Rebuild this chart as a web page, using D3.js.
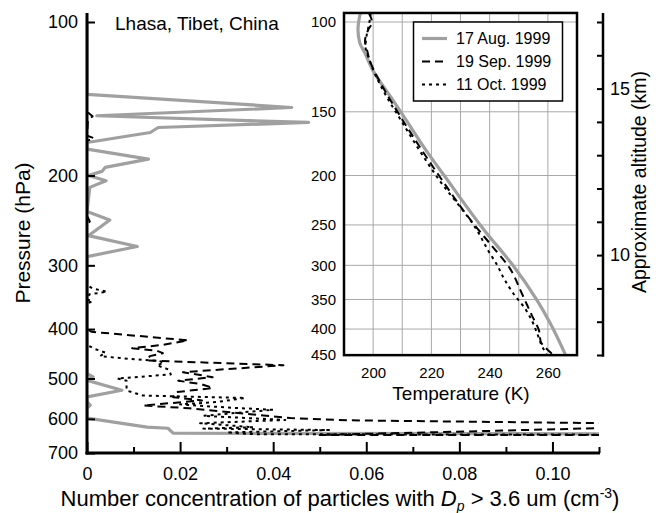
<!DOCTYPE html>
<html><head><meta charset="utf-8">
<script src="https://cdn.jsdelivr.net/npm/d3@7"></script>
<style>
body{margin:0;background:#fff;}
text{font-family:Arial,"Liberation Sans",Helvetica,sans-serif;fill:#000;}
</style></head><body>
<svg id="c" width="658" height="513"></svg>
<script>
// ---------- data ----------
const seriesNames = ["17 Aug. 1999", "19 Sep. 1999", "11 Oct. 1999"];
const pressureTicks = [100, 200, 300, 400, 500, 600, 700];
const concTicks = [0, 0.02, 0.04, 0.06, 0.08, 0.10];
const concMinorTicks = [0.01, 0.03, 0.05, 0.07, 0.09, 0.11];
const insetPressureTicks = [100, 150, 200, 250, 300, 350, 400, 450];
const insetGridPressure = [100, 150, 200, 250, 300, 350, 400];
const tempTicks = [200, 220, 240, 260];
const tempGrid = [200, 210, 220, 230, 240, 250, 260];
const altTicks = [7, 8, 9, 10, 11, 12, 13, 14, 15, 16, 17];
const altLabels = [10, 15];

// [pressure hPa, concentration cm^-3]
const augConc = [[100,0],[138.6,0],[147.1,0.044],[152.7,0.0021],[157.4,0.0476],[161,0.0153],[164.7,0.0136],[172.3,0],[177.5,0],[185.7,0.0132],[192.8,0.0039],[196.3,0.0032],[200,0.0003],[204.8,0.0041],[211,0.0006],[235.3,0],[244.4,0.0049],[262.4,0.0003],[275.6,0.0108],[288.4,0],[489,0],[496.6,0.0013],[504,0],[527.3,0.0075],[543.5,0],[556,0],[564,0.0007],[572,0],[598,0],[623,0.0129],[626,0.0174],[640,0.0185],[644,0.2]];
const sepConc = [[100,0],[150,0],[153,0.0012],[156,0.0002],[167,0],[169,0.0015],[171,0],[240,0],[246,0.0006],[250,0],[400,0],[405,0.001],[421,0.0217],[430,0.016],[436,0.0097],[441,0.015],[446,0.0163],[452,0.0135],[461,0.0129],[471,0.0422],[486,0.0206],[497,0.027],[505,0.0196],[513,0.0245],[522,0.027],[532,0.019],[544,0.0185],[552,0.0247],[565,0.0121],[572,0.022],[588,0.0357],[598,0.0437],[604,0.0565],[625,0.2],[646,0.2],[645,0.05],[637,0.076],[597,0.2]];
const octConc = [[100,0],[328,0],[333,0.0012],[338,0.0043],[342,0.0005],[350,0],[353,0.0012],[356,0],[430,0],[438,0.0018],[445,0.004],[452,0.0028],[458,0.0095],[462,0.0155],[466,0.0165],[471,0.015],[480,0.0175],[491,0.018],[500,0.0065],[505,0.0085],[515,0.0085],[528,0.0085],[540,0.012],[546,0.034],[556,0.028],[562,0.02],[570,0.03],[576,0.04],[584,0.032],[592,0.025],[603,0.0426],[612,0.0243],[623,0.0357],[627,0.025],[631,0.052],[638,0.03],[643,0.036],[646,0.2]];

// [pressure hPa, temperature K]
const augTemp = [[96,195.6],[103.4,194.8],[109.8,195.4],[114.8,197.1],[124.7,200.0],[139.6,205.8],[152.8,210.4],[180,218.6],[200,224.4],[256.6,238.3],[300,248.0],[351.5,256.3],[390.5,260.9],[450,266.1]];
const sepTemp = [[96,198.5],[100,199.6],[104,198.2],[109,197.2],[114,198.0],[119,198.8],[124,200.2],[140,205.2],[153,209.3],[180,217.2],[200,222.6],[250,234.8],[274,240.6],[304.5,247.0],[341,251.1],[376,254.5],[402,256.9],[424,257.6],[436,259.3],[445,261.0],[450,261.6]];
const octTemp = [[96,199.2],[101,198.6],[106,197.8],[112,197.4],[118,198.6],[124,200.0],[140,204.6],[153,208.7],[180,216.3],[200,221.6],[258,236.0],[280.6,239.5],[302,242.9],[316.6,244.7],[341,248.2],[365,252.2],[385,254.5],[406,256.2],[427,257.6],[450,259.6]];

const styles = [
  {stroke:"#a0a0a0", width:3.2, dash:null},
  {stroke:"#000", width:2, dash:"8,5"},
  {stroke:"#000", width:2, dash:"3,4"}
];

// ---------- scales ----------
const svg = d3.select("#c");
const x = d3.scaleLinear().domain([0, 0.11]).range([87, 599]);
const y = d3.scaleLog().domain([100, 700]).range([22, 453]);
const pTop = 96, pInsetBottom = 450;
const xT = d3.scaleLinear().domain([190, 270]).range([344, 577]);
const z = d3.scaleLinear().domain([7, 17]).range([355, 22]);

svg.append("clipPath").attr("id","mainClip").append("rect")
  .attr("x", x(0)).attr("y", y(pTop)).attr("width", x(0.11)-x(0)).attr("height", y(700)-y(pTop));
svg.append("clipPath").attr("id","insetClip").append("rect")
  .attr("x", xT(190)).attr("y", y(pTop)).attr("width", xT(270)-xT(190)).attr("height", y(pInsetBottom)-y(pTop));

// ---------- main series ----------
const lineC = d3.line().x(d => x(d[1])).y(d => y(d[0]));
const gMain = svg.append("g").attr("clip-path","url(#mainClip)");
[augConc, sepConc, octConc].forEach((data, i) => {
  gMain.append("path").attr("d", lineC(data)).attr("fill","none")
    .attr("stroke", styles[i].stroke).attr("stroke-width", styles[i].width)
    .attr("stroke-dasharray", styles[i].dash).attr("stroke-linejoin","round");
});

// ---------- main axes ----------
const yAxis = d3.axisLeft(y).tickValues(pressureTicks).tickFormat(d3.format("d")).tickSize(-8).tickPadding(9).tickSizeOuter(0);
const gy = svg.append("g").attr("transform", `translate(${x(0)},0)`).call(yAxis);
gy.select(".domain").remove();
gy.selectAll(".tick line").attr("stroke","#000").attr("stroke-width",2);
gy.selectAll("text").style("font-size","18px");

const xAxis = d3.axisBottom(x).tickValues(concTicks).tickFormat(d => d === 0 ? "0" : d3.format(".2f")(d)).tickSize(-11).tickPadding(14).tickSizeOuter(0);
const gx = svg.append("g").attr("transform", `translate(0,${y(700)})`).call(xAxis);
gx.select(".domain").remove();
gx.selectAll(".tick line").attr("stroke","#000").attr("stroke-width",2);
gx.selectAll("text").style("font-size","18px");
const xMinor = d3.axisBottom(x).tickValues(concMinorTicks).tickFormat("").tickSize(-6).tickSizeOuter(0);
const gxm = svg.append("g").attr("transform", `translate(0,${y(700)})`).call(xMinor);
gxm.select(".domain").remove();
gxm.selectAll(".tick line").attr("stroke","#000").attr("stroke-width",2);

svg.append("line").attr("x1", x(0)).attr("x2", x(0)).attr("y1", y(pTop)).attr("y2", y(700)+1.5)
  .attr("stroke","#000").attr("stroke-width",3);
svg.append("line").attr("x1", x(0)-1.5).attr("x2", x(0.11)+1).attr("y1", y(700)).attr("y2", y(700))
  .attr("stroke","#000").attr("stroke-width",3);

// titles
svg.append("text").attr("x",115).attr("y",30).style("font-size","19px").text("Lhasa, Tibet, China");
svg.append("text").attr("transform","translate(30,233) rotate(-90)").attr("text-anchor","middle")
  .style("font-size","21px").text("Pressure (hPa)");
const xt = svg.append("text").attr("x",340).attr("y",506).attr("text-anchor","middle").style("font-size","22px");
xt.append("tspan").text("Number concentration of particles with ");
xt.append("tspan").style("font-style","italic").text("D");
xt.append("tspan").attr("dy",5).style("font-size","14px").style("font-style","italic").text("p");
xt.append("tspan").attr("dy",-5).text(" > 3.6 um (cm");
xt.append("tspan").attr("dy",-8).style("font-size","14px").text("-3");
xt.append("tspan").attr("dy",8).text(")");

// ---------- inset ----------
const gIn = svg.append("g");
gIn.append("rect").attr("x", xT(190)).attr("y", y(pTop)).attr("width", xT(270)-xT(190))
  .attr("height", y(pInsetBottom)-y(pTop)).attr("fill","#fff");
gIn.selectAll(".vg").data(tempGrid).join("line").attr("class","vg")
  .attr("x1", d => xT(d)).attr("x2", d => xT(d)).attr("y1", y(pTop)).attr("y2", y(pInsetBottom))
  .attr("stroke","#a8a8a8").attr("stroke-width",1);
gIn.selectAll(".hg").data(insetGridPressure).join("line").attr("class","hg")
  .attr("x1", xT(190)).attr("x2", xT(270)).attr("y1", d => y(d)).attr("y2", d => y(d))
  .attr("stroke","#a8a8a8").attr("stroke-width",1);

const lineT = d3.line().x(d => xT(d[1])).y(d => y(d[0])).curve(d3.curveMonotoneY);
const gInL = gIn.append("g").attr("clip-path","url(#insetClip)");
[augTemp, sepTemp, octTemp].forEach((data, i) => {
  gInL.append("path").attr("d", lineT(data)).attr("fill","none")
    .attr("stroke", styles[i].stroke).attr("stroke-width", styles[i].width)
    .attr("stroke-dasharray", styles[i].dash).attr("stroke-linejoin","round");
});
gIn.append("rect").attr("x", xT(190)).attr("y", y(pTop)).attr("width", xT(270)-xT(190))
  .attr("height", y(pInsetBottom)-y(pTop)).attr("fill","none").attr("stroke","#000").attr("stroke-width",2.5);

const iy = d3.axisLeft(y).tickValues(insetPressureTicks).tickFormat(d3.format("d")).tickSize(0).tickPadding(8);
const giy = svg.append("g").attr("transform", `translate(${xT(190)},0)`).call(iy);
giy.select(".domain").remove();
giy.selectAll("text").style("font-size","15px");
const ix = d3.axisBottom(xT).tickValues(tempTicks).tickSize(0).tickPadding(11);
const gix = svg.append("g").attr("transform", `translate(0,${y(pInsetBottom)+1.5})`).call(ix);
gix.select(".domain").remove();
gix.selectAll("text").style("font-size","15px");
svg.append("text").attr("x",461).attr("y",400).attr("text-anchor","middle").style("font-size","19px").text("Temperature (K)");

// legend
const lg = svg.append("g");
lg.append("rect").attr("x",413.5).attr("y",22).attr("width",149).attr("height",79)
  .attr("fill","#fff").attr("stroke","#000").attr("stroke-width",1.5);
seriesNames.forEach((name, i) => {
  const ly = 38.5 + i * 23;
  lg.append("line").attr("x1",422).attr("x2",447).attr("y1",ly).attr("y2",ly)
    .attr("stroke", styles[i].stroke).attr("stroke-width", styles[i].width).attr("stroke-dasharray", styles[i].dash);
  lg.append("text").attr("x",456).attr("y",ly).attr("dy","0.36em").style("font-size","16px").text(name);
});

// ---------- altitude axis ----------
const za = d3.axisRight(z).tickValues(altTicks).tickFormat(d => altLabels.includes(d) ? d : "").tickSize(-6).tickPadding(7).tickSizeOuter(0);
const gz = svg.append("g").attr("transform","translate(603,0)").call(za);
gz.select(".domain").remove();
gz.selectAll(".tick line").attr("stroke","#000").attr("stroke-width",2);
gz.selectAll("text").style("font-size","18px");
svg.append("line").attr("x1",603).attr("x2",603).attr("y1", y(pTop)).attr("y2", y(pInsetBottom)+1.5)
  .attr("stroke","#000").attr("stroke-width",2.5);
svg.append("text").attr("transform","translate(646,182) rotate(-90)").attr("text-anchor","middle")
  .style("font-size","19.5px").text("Approximate altitude (km)");
</script>
</body></html>
